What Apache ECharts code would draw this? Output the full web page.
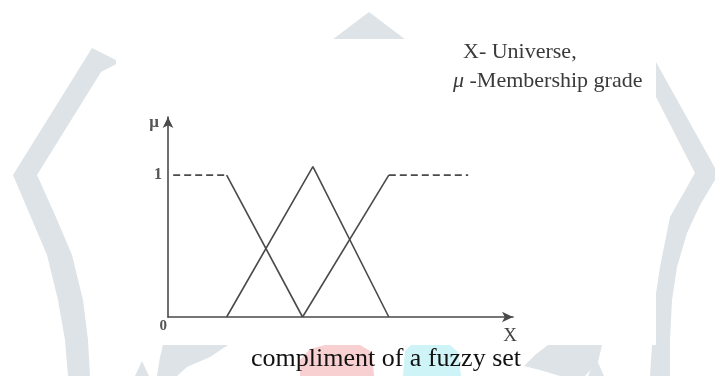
<!DOCTYPE html>
<html>
<head>
<meta charset="utf-8">
<script src="https://cdn.jsdelivr.net/npm/echarts@6/dist/echarts.min.js"></script>
<style>
  html, body { margin: 0; padding: 0; background: #fff; }
  #chart { width: 715px; height: 376px; }
</style>
</head>
<body>
<div id="chart"></div>
<script>
// Membership functions over the universe X (x in 0..100, grade mu in 0..1)
const lowShoulderDashed = [[1.5, 1], [17, 1]];
const lowShoulderSlope  = [[17, 1], [39, 0]];
const middleTriangle    = [[17, 0], [42, 1.06], [64, 0]];
const highShoulderSlope = [[39, 0], [64, 1]];
const highShoulderDashed = [[64, 1], [87, 1]];

// Axis tick labels
const xTickLabels = { 0: '0' };
const yTickLabels = { 1: '1' };

const caption = 'compliment of a fuzzy set';
const legendLines = ['X- Universe,', '-Membership grade'];

const lineColor = '#4a4a4a';
const serif = '"Liberation Serif", "DejaVu Serif", serif';
const wm = '#dde3e7';

const chart = echarts.init(document.getElementById('chart'), null, { renderer: 'canvas' });

function lineSeries(data, dashed) {
  return {
    type: 'line',
    data: data,
    symbol: 'none',
    silent: true,
    animation: false,
    z: 12,
    lineStyle: { color: lineColor, width: 1.6, type: dashed ? [7, 4] : 'solid' }
  };
}

function wmShape(points, fill) {
  return { type: 'polygon', silent: true, z: -5, shape: { points: points }, style: { fill: fill || wm } };
}

chart.setOption({
  backgroundColor: '#ffffff',
  animation: false,
  title: {
    text: caption,
    left: 246,
    top: 341,
    z: 12,
    textStyle: { fontFamily: serif, fontSize: 26, fontWeight: 'normal', color: '#111' }
  },
  grid: { left: 168, right: 202, top: 117, bottom: 59, containLabel: false },
  xAxis: {
    type: 'value',
    z: 10,
    min: 0, max: 100, interval: 100,
    name: 'X',
    nameLocation: 'end',
    nameGap: -3,
    nameTextStyle: { fontFamily: serif, fontSize: 19, color: '#444', align: 'center', verticalAlign: 'top', padding: [10, 0, 0, 0] },
    axisLine: { show: true, onZero: false, lineStyle: { color: lineColor, width: 1.6 }, symbol: ['none', 'arrow'], symbolSize: [8, 11] },
    axisTick: { show: false },
    splitLine: { show: false },
    axisLabel: {
      margin: 2, align: 'right', padding: [0, 1, 0, 0],
      fontFamily: serif, fontSize: 15, fontWeight: 'bold', color: '#555',
      formatter: v => xTickLabels[v] || ''
    }
  },
  yAxis: {
    type: 'value',
    z: 10,
    min: 0, max: 1.41, interval: 1,
    name: 'μ',
    nameLocation: 'end',
    nameGap: -6,
    nameTextStyle: { fontFamily: serif, fontSize: 17, fontWeight: 'bold', color: '#555', align: 'right', verticalAlign: 'middle', padding: [0, 9, 0, 0] },
    axisLine: { show: true, onZero: false, lineStyle: { color: lineColor, width: 1.6 }, symbol: ['none', 'arrow'], symbolSize: [8, 11] },
    axisTick: { show: false },
    splitLine: { show: false },
    axisLabel: {
      margin: 6,
      fontFamily: serif, fontSize: 16, fontWeight: 'bold', color: '#555',
      formatter: v => yTickLabels[v] || ''
    }
  },
  graphic: [
    // watermark shapes behind the figure
    wmShape([[92,48],[120,62],[101,72],[37,175],[55,215],[72,255],[83,300],[88,340],[90,376],[68,376],[65,340],[58,300],[47,255],[30,215],[13,175]]),
    wmShape([[656,62],[715,168],[715,180],[700,205],[687,233],[677,267],[672,300],[670,340],[670,376],[650,376],[652,345],[655,300],[660,267],[670,217],[695,173],[655,95]]),
    wmShape([[369,12],[414,46],[324,46]]),
    wmShape([[163,345],[228,345],[210,357],[187,367],[177,376],[157,376],[160,357]]),
    wmShape([[142,361],[149,376],[135,376]]),
    wmShape([[548,345],[602,345],[598,362],[585,376],[560,376],[540,370],[524,366],[535,355]]),
    wmShape([[596,358],[604,376],[588,376]]),
    wmShape([[300,376],[300,360],[310,349],[325,345],[360,345],[372,352],[374,376]], '#f8d0d1'),
    wmShape([[403,376],[405,351],[411,345],[450,345],[458,352],[461,376]], '#cff4f7'),
    // white figure panel
    { type: 'rect', silent: true, z: -4, shape: { x: 116, y: 39, width: 540, height: 306 }, style: { fill: '#ffffff' } },
    // symbol legend
    { type: 'text', silent: true, z: 1, x: 463, y: 52, style: { text: legendLines[0], font: '22px ' + serif, fill: '#3a3a3a', verticalAlign: 'middle' } },
    { type: 'text', silent: true, z: 1, x: 453, y: 81, style: {
        text: '{mu|μ} ' + legendLines[1],
        font: '22px ' + serif, fill: '#3a3a3a', verticalAlign: 'middle',
        rich: { mu: { fontFamily: serif, fontSize: 22, fontStyle: 'italic', fill: '#3a3a3a' } }
    } }
  ],
  series: [
    lineSeries(lowShoulderDashed, true),
    lineSeries(lowShoulderSlope, false),
    lineSeries(middleTriangle, false),
    lineSeries(highShoulderSlope, false),
    lineSeries(highShoulderDashed, true)
  ]
});
</script>
</body>
</html>
